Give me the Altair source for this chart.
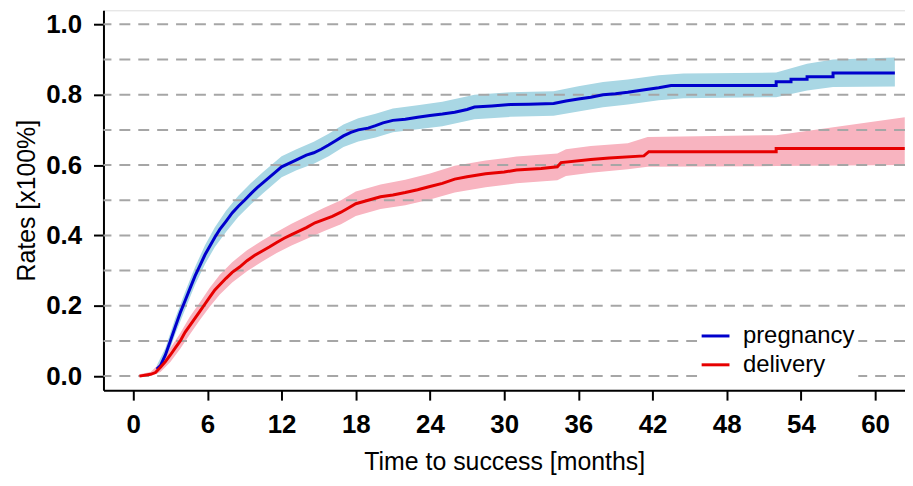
import altair as alt
import pandas as pd

# ---------------- data ----------------
preg_t = [1.9, 2.2, 2.6, 3.0, 3.4, 3.8, 4.2, 4.6, 5.0, 5.4, 5.8, 6.2, 6.6, 7.0, 7.5, 8.0,
          8.5, 9.0, 9.5, 10.0, 10.5, 11.0, 11.5, 12.0, 12.6, 13.2, 14.0, 14.6, 15.2, 15.8,
          16.4, 17.0, 17.6, 18.2, 19.0, 19.6, 20.2, 21.0, 22.0, 23.0, 24.0, 25.0, 26.0,
          27.0, 27.6, 29.0, 30.5, 32.0, 34.0, 35.0, 36.0, 37.0, 38.0, 39.0, 40.0, 41.5,
          42.5, 43.5, 52.0, 52.0, 53.2, 53.2, 54.5, 54.5, 56.6, 56.6, 61.6]
preg_v = [0.02, 0.03, 0.06, 0.10, 0.14, 0.18, 0.215, 0.25, 0.285, 0.315, 0.345, 0.37, 0.395,
          0.417, 0.44, 0.464, 0.483, 0.50, 0.518, 0.535, 0.55, 0.565, 0.58, 0.595, 0.605,
          0.615, 0.628, 0.635, 0.645, 0.657, 0.67, 0.683, 0.693, 0.70, 0.705, 0.712, 0.72,
          0.727, 0.73, 0.736, 0.741, 0.745, 0.75, 0.758, 0.765, 0.768, 0.772, 0.773, 0.775,
          0.782, 0.788, 0.793, 0.80, 0.803, 0.807, 0.815, 0.82, 0.826, 0.826, 0.837, 0.837,
          0.844, 0.844, 0.851, 0.851, 0.862, 0.862]

deliv_t = [0.5, 1.4, 1.8, 2.2, 2.6, 3.0, 3.4, 3.8, 4.2, 4.6, 5.0, 5.4, 5.8, 6.2, 6.6, 7.0,
           7.5, 8.0, 8.6, 9.2, 9.8, 10.4, 11.0, 11.6, 12.2, 12.8, 13.4, 14.0, 14.7, 15.4,
           16.1, 16.8, 17.4, 18.0, 19.0, 20.0, 21.0, 22.0, 23.0, 24.0, 25.0, 26.0, 27.0,
           28.5, 30.0, 31.0, 33.0, 34.3, 34.6, 37.0, 38.5, 41.3, 41.7, 52.0, 52.0, 62.4]
deliv_v = [0.0, 0.005, 0.01, 0.025, 0.041, 0.06, 0.08, 0.10, 0.125, 0.145, 0.165, 0.185,
           0.205, 0.225, 0.245, 0.26, 0.278, 0.295, 0.31, 0.328, 0.343, 0.355, 0.367, 0.38,
           0.392, 0.402, 0.412, 0.422, 0.436, 0.445, 0.454, 0.466, 0.478, 0.49, 0.50, 0.51,
           0.515, 0.522, 0.53, 0.539, 0.548, 0.56, 0.567, 0.575, 0.58, 0.586, 0.59, 0.595,
           0.607, 0.616, 0.62, 0.626, 0.638, 0.638, 0.647, 0.647]

preg_band_t = [1.9, 2.6, 3.4, 4.2, 5.0, 5.8, 6.6, 7.5, 8.5, 9.5, 10.5, 12.0, 13.2, 14.6,
               15.8, 17.0, 18.2, 19.6, 21.0, 23.0, 25.0, 27.6, 30.5, 34.0, 36.0, 38.0, 40.0,
               42.5, 44.5, 52.0, 54.5, 56.6, 61.6]
preg_lo = [0.005, 0.04, 0.12, 0.19, 0.26, 0.318, 0.367, 0.41, 0.453, 0.488, 0.52, 0.565, 0.585,
           0.604, 0.625, 0.651, 0.667, 0.678, 0.693, 0.702, 0.71, 0.73, 0.737, 0.74, 0.752,
           0.764, 0.772, 0.784, 0.79, 0.793, 0.812, 0.822, 0.823]
preg_hi = [0.03, 0.08, 0.165, 0.24, 0.31, 0.372, 0.423, 0.47, 0.513, 0.548, 0.58, 0.625,
           0.645, 0.666, 0.689, 0.715, 0.733, 0.746, 0.761, 0.77, 0.78, 0.80, 0.807, 0.81,
           0.824, 0.836, 0.843, 0.855, 0.86, 0.863, 0.888, 0.9, 0.906]

deliv_band_t = [0.5, 1.4, 2.2, 3.0, 3.8, 4.6, 5.4, 6.2, 7.0, 8.0, 9.2, 10.4, 11.6, 12.8, 14.0,
                15.4, 16.8, 18.0, 20.0, 22.0, 24.0, 26.0, 28.5, 31.0, 34.3, 35.0, 37.0, 40.0,
                41.6, 52.0, 62.4]
deliv_lo = [0.0, 0.0, 0.012, 0.04, 0.078, 0.12, 0.16, 0.198, 0.232, 0.266, 0.298, 0.325, 0.35,
            0.371, 0.39, 0.412, 0.432, 0.455, 0.475, 0.486, 0.502, 0.522, 0.537, 0.548, 0.557,
            0.569, 0.578, 0.588, 0.595, 0.597, 0.60]
deliv_hi = [0.005, 0.012, 0.038, 0.08, 0.122, 0.17, 0.21, 0.252, 0.288, 0.324, 0.358, 0.385,
            0.41, 0.433, 0.454, 0.478, 0.50, 0.525, 0.545, 0.558, 0.576, 0.598, 0.613, 0.624,
            0.633, 0.645, 0.654, 0.662, 0.68, 0.685, 0.736]

grid_values = [0.0, 0.1, 0.2, 0.3, 0.4, 0.5, 0.6, 0.7, 0.8, 0.9, 1.0]
x_ticks = [0, 6, 12, 18, 24, 30, 36, 42, 48, 54, 60]
y_ticks = [0.0, 0.2, 0.4, 0.6, 0.8, 1.0]
series_names = ["pregnancy", "delivery"]
line_colors = ["#0000CC", "#E60000"]
band_colors = ["#A9D7E4", "#F8B4C0"]

# ---------------- frames ----------------
lines_df = pd.concat([
    pd.DataFrame({"t": preg_t, "v": preg_v, "series": "pregnancy", "o": range(len(preg_t))}),
    pd.DataFrame({"t": deliv_t, "v": deliv_v, "series": "delivery", "o": range(len(deliv_t))}),
])
preg_band = pd.DataFrame({"t": preg_band_t, "lo": preg_lo, "hi": preg_hi})
deliv_band = pd.DataFrame({"t": deliv_band_t, "lo": deliv_lo, "hi": deliv_hi})
grid_df = pd.DataFrame({"g": grid_values})

FONT = "Liberation Sans"
W, H = 806, 382
xscale = alt.Scale(domain=[-2.41, 62.42], nice=False, zero=False)
yscale = alt.Scale(domain=[-0.04, 1.04], nice=False, zero=False)

xaxis = alt.Axis(values=x_ticks, title="Time to success [months]", grid=False,
                 labelFont=FONT, labelFontSize=26, labelFontWeight="bold", labelColor="black",
                 labelPadding=12, tickSize=10, tickWidth=2, tickColor="black",
                 domainColor="black", domainWidth=2,
                 titleFont=FONT, titleFontSize=25, titleFontWeight="normal", titleColor="black",
                 titleX=W / 2, titleY=80, titleBaseline="alphabetic", titleAlign="center")
yaxis = alt.Axis(values=y_ticks, format=".1f", title="Rates [x100%]", grid=False,
                 labelFont=FONT, labelFontSize=26, labelFontWeight="bold", labelColor="black",
                 labelPadding=12, tickSize=10, tickWidth=2, tickColor="black",
                 domainColor="black", domainWidth=2,
                 titleFont=FONT, titleFontSize=25, titleFontWeight="normal", titleColor="black",
                 titleAngle=270, titleX=-69, titleY=H / 2, titleBaseline="alphabetic",
                 titleAlign="center")

band_p = alt.Chart(preg_band).mark_area(color=band_colors[0], opacity=1, interpolate="linear").encode(
    x=alt.X("t:Q", scale=xscale, axis=xaxis),
    y=alt.Y("lo:Q", scale=yscale, axis=yaxis),
    y2="hi:Q",
)
band_d = alt.Chart(deliv_band).mark_area(color=band_colors[1], opacity=1, interpolate="linear").encode(
    x=alt.X("t:Q", scale=xscale),
    y=alt.Y("lo:Q", scale=yscale),
    y2="hi:Q",
)
grid = alt.Chart(grid_df).mark_rule(color="#A6A6A6", strokeWidth=2, strokeDash=[11, 8]).encode(
    y=alt.Y("g:Q", scale=yscale)
)
lines = alt.Chart(lines_df).mark_line(strokeWidth=3, interpolate="linear").encode(
    x=alt.X("t:Q", scale=xscale),
    y=alt.Y("v:Q", scale=yscale),
    order="o:Q",
    color=alt.Color("series:N",
                    scale=alt.Scale(domain=series_names, range=line_colors),
                    sort=series_names,
                    legend=alt.Legend(title=None, orient="none", legendX=597, legendY=309,
                                      fillColor="white", padding=3, symbolType="stroke",
                                      symbolStrokeWidth=3, symbolSize=784,
                                      labelFont=FONT, labelFontSize=24, labelColor="black",
                                      labelOffset=12, rowPadding=1)),
)

chart = alt.layer(band_p, band_d, grid, lines).properties(
    width=W, height=H,
    autosize=alt.AutoSizeParams(type="none"),
    padding={"left": 96, "top": 1, "right": 0, "bottom": 84},
).configure_view(stroke=None).configure(background="white")

chart.save("out.html", embed_options={"renderer": "svg", "actions": False})
